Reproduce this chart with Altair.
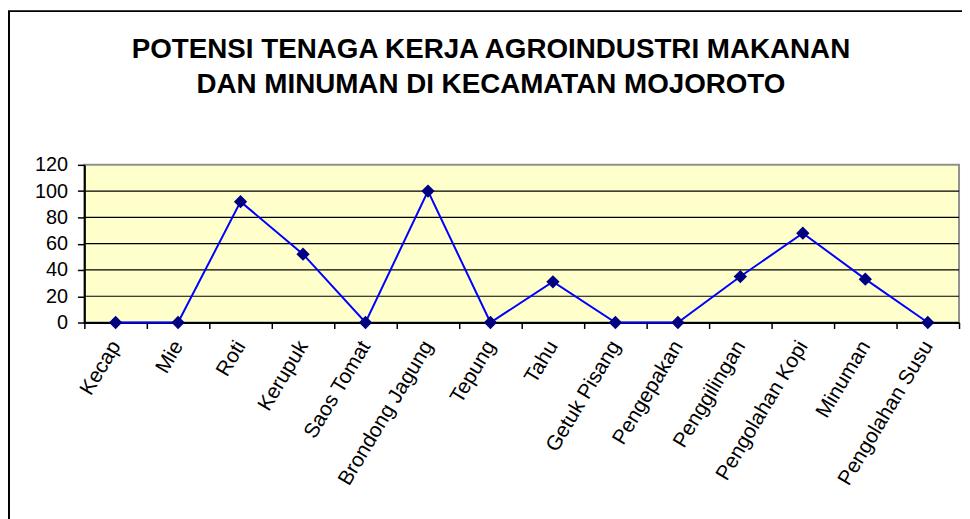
import altair as alt
import pandas as pd

categories = ["Kecap", "Mie", "Roti", "Kerupuk", "Saos Tomat", "Brondong Jagung",
              "Tepung", "Tahu", "Getuk Pisang", "Pengepakan", "Penggilingan",
              "Pengolahan Kopi", "Minuman", "Pengolahan Susu"]
values = [0, 0, 92, 52, 0, 100, 0, 31, 0, 0, 35, 68, 33, 0]
yticks = [0, 20, 40, 60, 80, 100, 120]
gridlines = [20, 40, 60, 80, 100]
title_lines = ["POTENSI TENAGA KERJA AGROINDUSTRI MAKANAN",
               "DAN MINUMAN DI KECAMATAN MOJOROTO"]

df = pd.DataFrame({"kategori": categories, "nilai": values})
gdf = pd.DataFrame({"nilai": gridlines})
fdf = pd.DataFrame({"a": [0]})

FONT = "Liberation Sans"

x = alt.X("kategori:N", sort=categories,
          scale=alt.Scale(type="band", paddingInner=0, paddingOuter=0),
          axis=alt.Axis(title=None, labelAngle=301, labelAlign="right",
                        labelBaseline="middle", labelPadding=14,
                        tickBand="extent", domainColor="black", domainWidth=2,
                        tickColor="black", tickSize=6, tickWidth=1.5,
                        labelFont=FONT, labelFontSize=21, labelColor="black",
                        grid=False))
yaxis = alt.Axis(values=yticks, title=None, grid=False, tickSize=7,
                 tickColor="black", tickWidth=1.5, domainColor="black",
                 domainWidth=2, labelFont=FONT, labelFontSize=20,
                 labelColor="black", labelPadding=10)
yscale = alt.Scale(domain=[0, 120], nice=False)
y = alt.Y("nilai:Q", scale=yscale, axis=yaxis)

frame = alt.Chart(fdf).mark_rect(fill="transparent", stroke="black",
                                 strokeWidth=2).encode(
    x=alt.value(-76), x2=alt.value(1000), y=alt.value(-155), y2=alt.value(600))

grid = alt.Chart(gdf).mark_rule(color="black", strokeWidth=1.2).encode(
    y=alt.Y("nilai:Q", scale=yscale, axis=yaxis))

line = alt.Chart(df).mark_line(color="#0000FF", strokeWidth=2).encode(x=x, y=y)
pts = alt.Chart(df).mark_point(shape="diamond", filled=True, size=180,
                               color="#000080", opacity=1).encode(x=x, y=y)

chart = alt.layer(frame, grid, line, pts).properties(
    width=882, height=159,
    title=alt.TitleParams(title_lines, font=FONT, fontSize=28, fontWeight="bold",
                          color="black", anchor="middle", dx=-31, offset=0,
                          dy=90, lineHeight=36),
    autosize=alt.AutoSizeParams(type="none"),
    padding={"left": 77, "top": 156, "right": 3, "bottom": 200},
    background="white",
).configure_view(fill="#FFFFCC", stroke="#909090", strokeWidth=2)

chart.save("out.html", embed_options={"renderer": "svg", "actions": False})
